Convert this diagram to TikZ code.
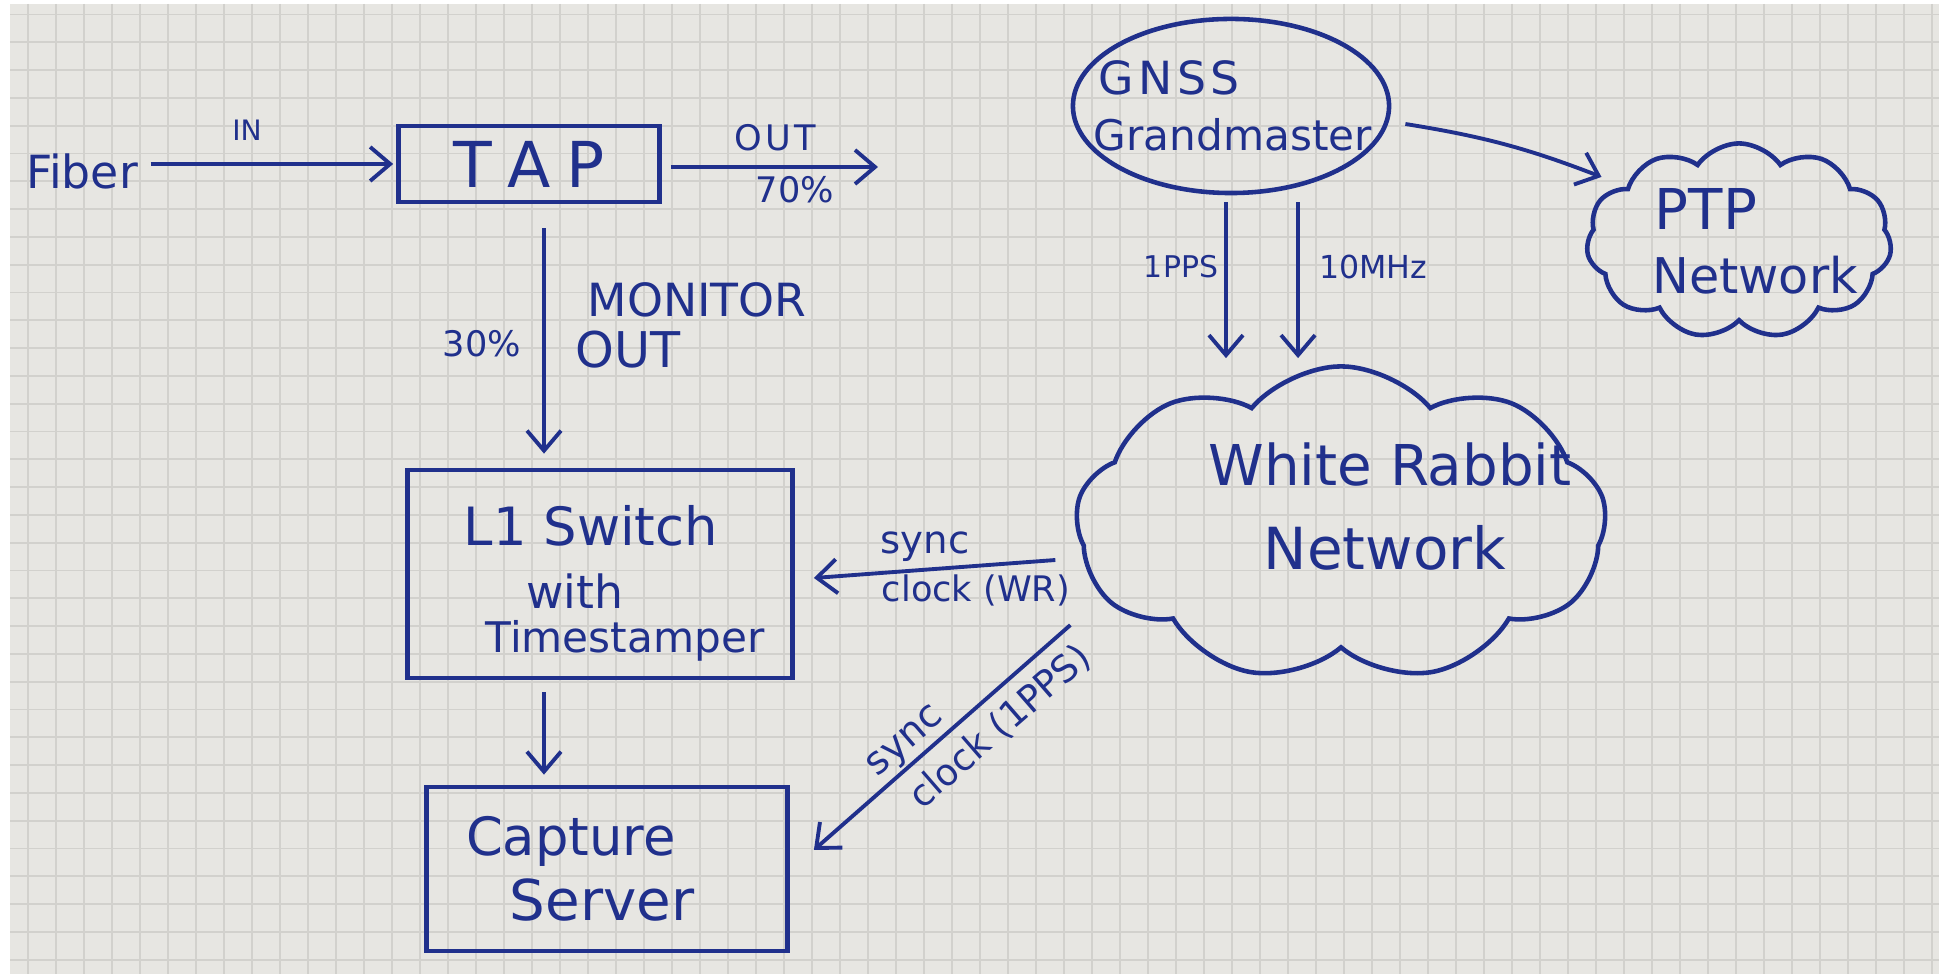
\documentclass[tikz,border=0pt]{standalone}
\usepackage{fontspec}
\setmainfont{DejaVu Sans}
\usetikzlibrary{arrows.meta,shapes.geometric,shapes.symbols}
\definecolor{ink}{RGB}{32,48,140}
\definecolor{paper}{RGB}{231,230,226}
\definecolor{gridc}{RGB}{210,209,205}
\tikzset{
  lbl/.style={text=ink,inner sep=0pt},
  boxn/.style={draw=ink,text=ink,line width=1.3pt,rectangle,inner sep=0pt,align=center},
  arr/.style={draw=ink,line width=1.1pt,-{Straight Barb[length=0.2cm,width=0.34cm,line width=1.1pt]}},
  cloudn/.style={draw=ink,text=ink,line width=1.3pt,cloud,cloud ignores aspect,inner sep=0pt,align=center}
}
\newcommand{\fsz}[1]{\fontsize{#1}{#1}\selectfont}
\newcommand{\zl}[2]{\makebox[0pt]{\hspace*{#1}#2}}
\begin{document}
\begin{tikzpicture}[x=0.01cm,y=-0.01cm]
\useasboundingbox (0,0) rectangle (1939,974);
\fill[white] (0,0) rectangle (1939,974);
\fill[paper] (10,4) rectangle (1939,974);
\begin{scope}
\clip (10,4) rectangle (1939,974);
\foreach \i in {1,...,69} \draw[gridc,line width=0.5pt] ({28*\i},4) -- ({28*\i},974);
\foreach \j in {0,...,34} \draw[gridc,line width=0.5pt] (10,{14.5+27.8*\j}) -- (1939,{14.5+27.8*\j});
\end{scope}

% shapes with their texts
\node[lbl,font=\fsz{13pt}] (fiber) at (82,171) {Fiber};
\node[boxn,minimum width=2.61cm,minimum height=0.76cm,font=\fsz{18pt}] (tap) at (529,164) {T\hspace{0.25em}A\hspace{0.25em}P};
\node[boxn,minimum width=3.85cm,minimum height=2.08cm,font=\fontsize{12pt}{12.5pt}\selectfont] (l1) at (600,574)
  {\rule{0pt}{0.59cm}\zl{-0.18cm}{\fsz{15pt}L1 Switch}\\[5.4pt]
   \zl{-0.5cm}{\fsz{13pt}with}\\
   \zl{0.5cm}{Timestamper}};
\node[boxn,minimum width=3.61cm,minimum height=1.64cm,font=\fontsize{16pt}{18.5pt}\selectfont] (cap) at (607,869)
  {\zl{-0.72cm}{\fsz{15pt}Capture}\\
   \zl{-0.1cm}{Server}};
\node[draw=ink,text=ink,line width=1.3pt,ellipse,minimum width=3.16cm,minimum height=1.74cm,inner sep=0pt,align=center,font=\fontsize{12pt}{16pt}\selectfont] (gnss) at (1231,106)
  {\zl{-1.24cm}{\fsz{13pt}G\hspace{0.1em}N\hspace{0.1em}S\hspace{0.1em}S}\\
   \zl{0.04cm}{Grandmaster}};
\node[cloudn,cloud puffs=11,cloud puff arc=110,minimum width=3.05cm,minimum height=1.95cm,font=\fontsize{14pt}{18.2pt}\selectfont] (ptp) at (1739,241)
  {\zl{-0.66cm}{\fsz{16pt}PTP}\\
   \zl{0.32cm}{Network}};
\node[cloudn,cloud puffs=9,cloud puff arc=100,minimum width=5.3cm,minimum height=3.15cm,font=\fontsize{16.5pt}{24pt}\selectfont] (wr) at (1341,524)
  {\zl{0.98cm}{\fsz{16pt}White Rabbit}\\
   \zl{0.88cm}{Network}\rule[-0.36cm]{0pt}{0pt}};

% connectors
\draw[arr,shorten <=0.12cm,shorten >=0.03cm] (fiber.east |- tap.west) -- (tap.west);
\node[lbl,font=\fsz{8pt}] (inl) at (247,130) {IN};
\coordinate (outend) at (878,167);
\draw[arr,shorten <=0.09cm] (tap.east |- outend) -- (outend);
\node[lbl,font=\fsz{10pt}] (outl) at (775,138) {O\hspace{0.1em}U\hspace{0.1em}T};
\node[lbl,font=\fsz{10pt}] (pct70) at (795,190) {70\%};
\draw[arr,shorten <=0.24cm,shorten >=0.14cm] ([xshift=0.15cm]tap.south) -- ([xshift=0.15cm]tap.south |- l1.north);
\node[lbl,font=\fsz{13pt}] (mon) at (697,300) {MONITOR};
\node[lbl,font=\fsz{14pt},anchor=west] (mout) at (575,350) {OUT};
\node[lbl,font=\fsz{10pt}] (pct30) at (482,344) {30\%};
\draw[arr,shorten <=0.12cm,shorten >=0.1cm] ([xshift=-0.56cm]l1.south) -- ([xshift=-0.56cm]l1.south |- cap.north);
\draw[arr,shorten <=0.07cm,shorten >=0.06cm] ([xshift=-0.05cm]gnss.south) -- ([xshift=-0.05cm]gnss.south |- wr.north);
\draw[arr,shorten <=0.07cm,shorten >=0.06cm] ([xshift=0.67cm]gnss.south) -- ([xshift=0.67cm]gnss.south |- wr.north);
\node[lbl,font=\fsz{8.5pt}] (pps) at (1181,267) {1PPS};
\node[lbl,font=\fsz{9pt}] (mhz) at (1373,267) {10MHz};
\draw[arr] ([shift={(0.14cm,-0.18cm)}]gnss.east) to[bend left=6] ([shift={(0.16cm,0.64cm)}]ptp.west);
\draw[arr] ([shift={(-0.19cm,-0.36cm)}]wr.west) -- ([shift={(0.19cm,-0.04cm)}]l1.east);
\node[lbl,font=\fsz{11pt}] (synca) at (925,547) {sync};
\node[lbl,font=\fsz{10pt}] (clka) at (976,590) {clock (WR)};
\draw[arr] ([shift={(-0.04cm,-1.01cm)}]wr.west) -- ([shift={(0.24cm,0.19cm)}]cap.east);
\node[lbl,font=\fsz{11pt},rotate=41] (syncb) at (907,743) {sync};
\node[lbl,font=\fsz{10.5pt},rotate=41] (clkb) at (1000,727) {clock (1PPS)};
\end{tikzpicture}
\end{document}
